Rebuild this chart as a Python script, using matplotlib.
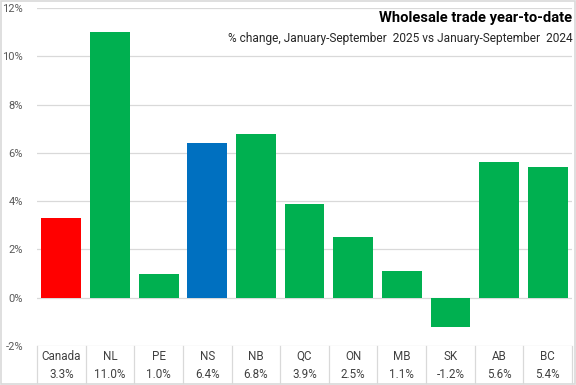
import matplotlib.pyplot as plt
import matplotlib.transforms as mtransforms
from matplotlib.patches import Rectangle

plt.rcParams['font.family'] = ['Roboto', 'DejaVu Sans']

# data
regions = ['Canada', 'NL', 'PE', 'NS', 'NB', 'QC', 'ON', 'MB', 'SK', 'AB', 'BC']
changes = [3.3, 11.0, 1.0, 6.4, 6.8, 3.9, 2.5, 1.1, -1.2, 5.6, 5.4]
bar_colors = ['#FF0000', '#00B050', '#00B050', '#0070C0', '#00B050', '#00B050',
              '#00B050', '#00B050', '#00B050', '#00B050', '#00B050']
yticks = [-2, 0, 2, 4, 6, 8, 10, 12]

fig = plt.figure(figsize=(5.76, 3.85), dpi=100)
ax = fig.add_axes([0.0642, 0.1013, 0.929, 0.878])

x = range(len(regions))
ax.bar(x, changes, width=0.82, color=bar_colors, zorder=3)

ax.set_xlim(-0.5, len(regions) - 0.5)
ax.set_ylim(-2, 12)
ax.set_yticks(yticks)
ax.set_yticklabels([f'{t}%' for t in yticks], fontsize=8, color='#595959')
ax.tick_params(axis='y', length=0, pad=10)
ax.set_xticks([])
ax.grid(axis='y', color='#d9d9d9', linewidth=0.9, zorder=0)
for s in ax.spines.values():
    s.set_visible(False)

# category table below the axis
trans = mtransforms.blended_transform_factory(ax.transData, ax.transAxes)
for i, (r, v) in enumerate(zip(regions, changes)):
    ax.text(i, -0.03, r, transform=trans, ha='center', va='center',
            fontsize=8.4, color='#404040')
    ax.text(i, -0.084, f'{v:.1f}%', transform=trans, ha='center', va='center',
            fontsize=8.4, color='#404040')
for b in range(len(regions) + 1):
    ax.plot([b - 0.5, b - 0.5], [0, -0.11], transform=trans, color='#d9d9d9',
            linewidth=0.9, clip_on=False)

fig.text(0.994, 0.953, 'Wholesale trade year-to-date', ha='right', va='center',
         fontsize=10.6, fontweight='bold', color='#000000')
fig.text(0.994, 0.901, '% change, January-September  2025 vs January-September  2024',
         ha='right', va='center', fontsize=8.6, color='#262626')

fig.patches.append(Rectangle((0.001, 0.002), 0.997, 0.995, transform=fig.transFigure,
                             fill=False, edgecolor='#d9d9d9', linewidth=1.2))

fig.savefig('out.png', dpi=100)
